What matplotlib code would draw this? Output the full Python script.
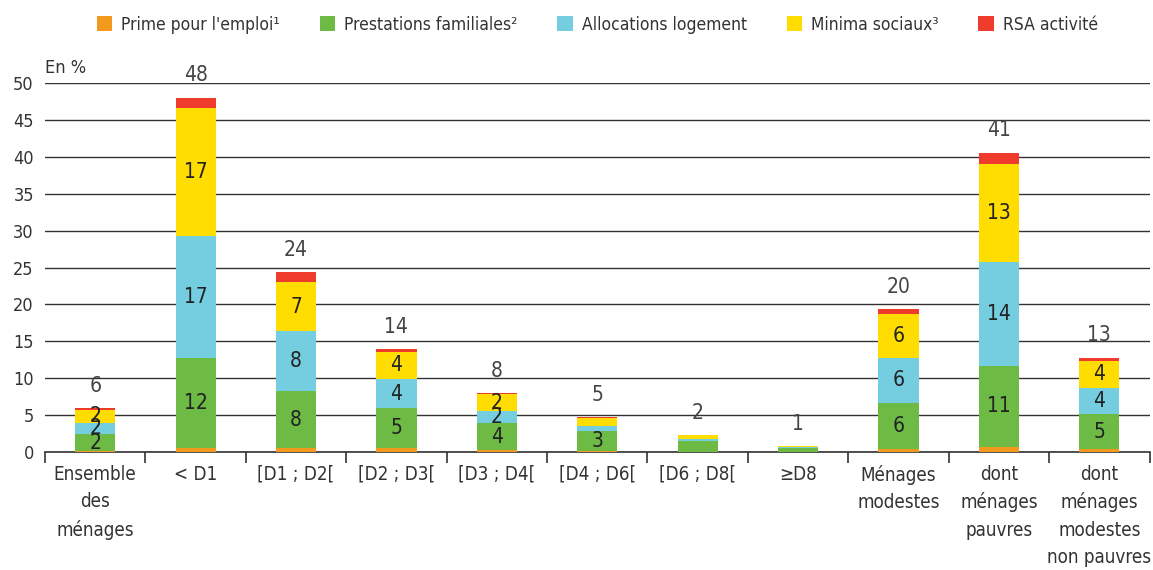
import numpy as np
import matplotlib.pyplot as plt

plt.rcParams['font.family'] = ['DejaVu Sans']
plt.rcParams['font.stretch'] = 'condensed'

categories = ["Ensemble\ndes\nménages", "< D1", "[D1 ; D2[", "[D2 ; D3[", "[D3 ; D4[",
              "[D4 ; D6[", "[D6 ; D8[", "≥D8", "Ménages\nmodestes",
              "dont\nménages\npauvres", "dont\nménages\nmodestes\nnon pauvres"]

prime = [0.15, 0.6, 0.5, 0.5, 0.3, 0.2, 0.05, 0.05, 0.45, 0.7, 0.45]
prestations = [2.26, 12.1, 7.8, 5.4, 3.6, 2.6, 1.5, 0.55, 6.2, 11.0, 4.66]
logement = [1.57, 16.6, 8.1, 4.0, 1.7, 0.68, 0.2, 0.05, 6.1, 14.0, 3.6]
minima = [1.72, 17.3, 6.6, 3.7, 2.2, 1.18, 0.54, 0.15, 5.9, 13.3, 3.6]
rsa = [0.2, 1.45, 1.4, 0.4, 0.15, 0.05, 0.02, 0.02, 0.76, 1.6, 0.5]
totals = [6, 48, 24, 14, 8, 5, 2, 1, 20, 41, 13]

series = [
    ("Prime pour l'emploi¹", prime, '#F39A1E'),
    ("Prestations familiales²", prestations, '#6DBB45'),
    ("Allocations logement", logement, '#74CEE0'),
    ("Minima sociaux³", minima, '#FFDD00'),
    ("RSA activité", rsa, '#EE3B2C'),
]

fig = plt.figure(figsize=(11.53, 5.70), dpi=100)
ax = fig.add_axes([0.039, 0.207, 0.958, 0.647])

x = np.arange(len(categories))
bottom = np.zeros(len(categories))
for i, (name, vals, col) in enumerate(series):
    vals = np.array(vals)
    ax.bar(x, vals, 0.4, bottom=bottom, color=col, label=name, zorder=3)
    # values inside the main segments
    if i in (1, 2, 3):
        for xi, b, v in zip(x, bottom, vals):
            if v >= 1.55:
                ax.text(xi, b + v / 2, str(int(round(v))), ha='center', va='center',
                        fontsize=15, color='#222222', zorder=4)
    bottom += vals

for xi, top, t in zip(x, bottom, totals):
    ax.annotate(str(t), (xi, top), xytext=(0, 16), textcoords='offset points',
                ha='center', va='center', fontsize=15, color='#444444')

ax.set_xlim(-0.5, len(categories) - 0.5)
ax.set_ylim(0, 50)
ax.set_yticks(np.arange(0, 51, 5))
ax.yaxis.grid(True, color='#333333', linewidth=1.0, zorder=0)
ax.tick_params(axis='y', length=0, labelsize=13, labelcolor='#333333', pad=8)

ax.set_xticks(x)
ax.set_xticklabels(categories, fontsize=13.5, color='#333333', linespacing=1.55, va='top')
ax.set_xticks(np.arange(-0.5, len(categories)), minor=True)
ax.tick_params(axis='x', which='major', length=0, pad=9)
ax.tick_params(axis='x', which='minor', length=8, width=1.2, color='#333333', direction='out')

for s in ['left', 'right', 'top']:
    ax.spines[s].set_visible(False)
ax.spines['bottom'].set_color('#333333')
ax.spines['bottom'].set_linewidth(1.2)

ax.text(0.0, 1.04, "En %", transform=ax.transAxes, fontsize=13, color='#333333',
        ha='left', va='center')

fig.legend(loc='upper center', bbox_to_anchor=(0.518, 1.0), ncol=5, frameon=False,
           fontsize=12.5, handlelength=0.9, handleheight=0.9, columnspacing=2.3,
           handletextpad=0.5, labelcolor='#333333')

fig.savefig('out.png', dpi=100)
